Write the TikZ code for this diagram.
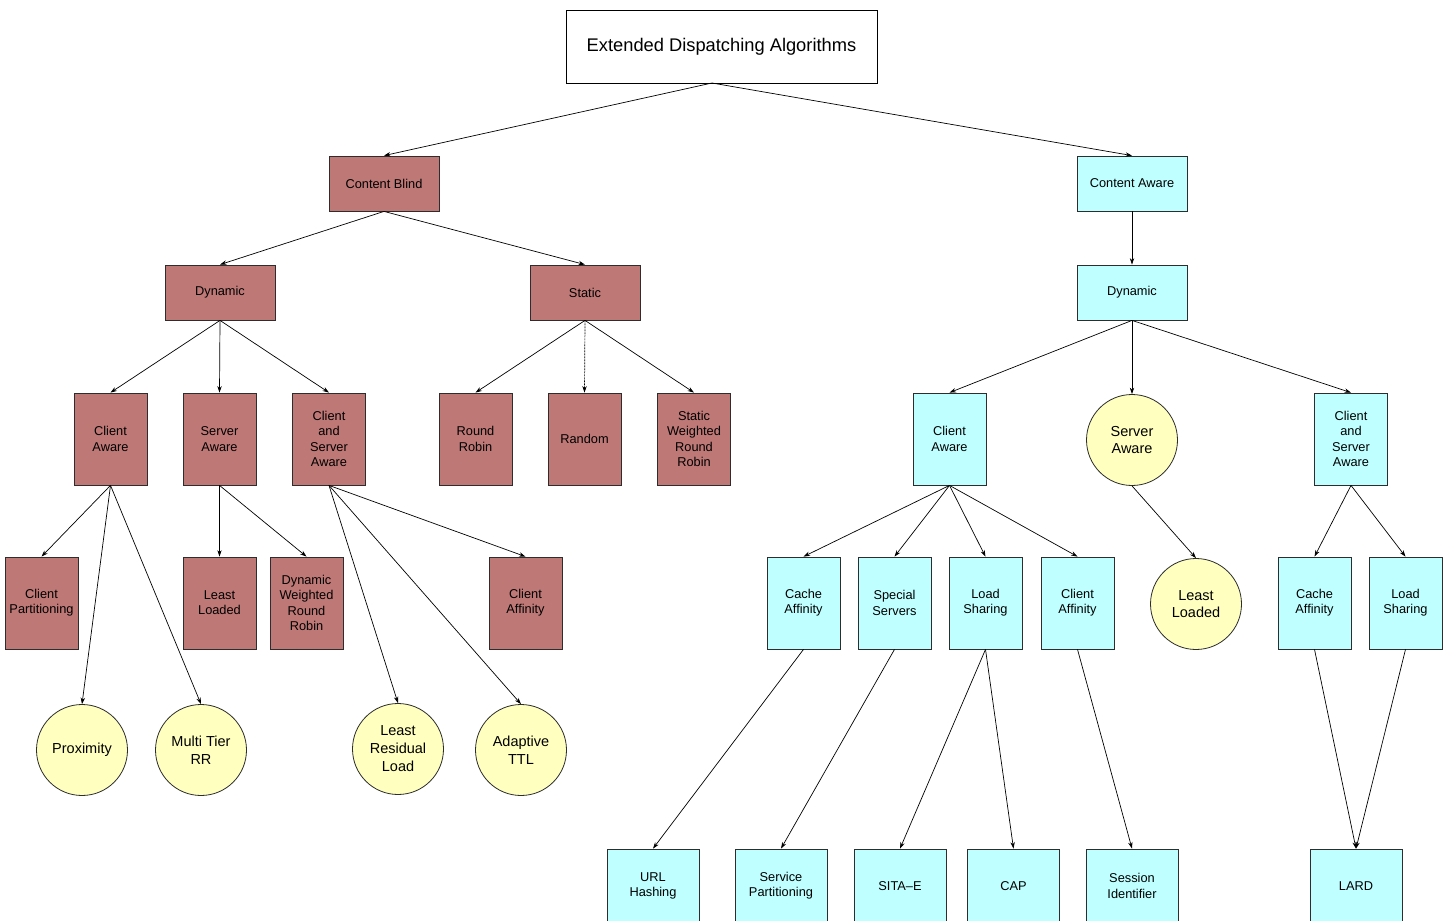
\documentclass[tikz,border=0pt]{standalone}
\usepackage{fontspec}
\setmainfont{Liberation Sans}
\usetikzlibrary{arrows.meta}
\definecolor{blindfill}{RGB}{190,120,118}
\definecolor{awarefill}{RGB}{191,255,255}
\definecolor{leaffill}{RGB}{255,255,192}
\definecolor{edgegray}{RGB}{45,45,45}
\tikzset{
  box/.style={rectangle, draw=edgegray, line width=0.8pt, inner sep=0pt, align=center,
    font=\fontsize{12.8}{15.3}\selectfont},
  blind/.style={box, fill=blindfill},
  aware/.style={box, fill=awarefill},
  wide/.style={minimum width=110pt, minimum height=55pt},
  tall/.style={minimum width=73pt, minimum height=92pt},
  base/.style={minimum width=92pt, minimum height=74pt},
  leaf/.style={circle, draw=edgegray, line width=0.8pt, fill=leaffill, inner sep=0pt,
    minimum size=91pt, align=center, font=\fontsize{14.5}{17.5}\selectfont},
  link/.style={draw=black, line width=0.7pt, -{Stealth[length=6.5pt,width=4.4pt]}},
}
\begin{document}
\begin{tikzpicture}[x=1pt,y=-1pt]
\useasboundingbox (0,0) rectangle (1446,921);
\clip (0,0) rectangle (1446,921);

% root
\node[box, draw=black, fill=white, minimum width=311pt, minimum height=73pt,
  font=\fontsize{18.3}{22}\selectfont] (root) at (721.5,46.5) {Extended Dispatching Algorithms};
\coordinate (rootout) at (712,83);

% first and second level
\node[blind, wide] (cb) at (384,183.5) {Content Blind};
\node[aware, wide] (ca) at (1132,183.5) {Content Aware};
\node[blind, wide] (bdyn) at (220,292.5) {Dynamic};
\node[blind, wide] (bstat) at (585,292.5) {Static};
\node[aware, wide] (adyn) at (1132,292.5) {Dynamic};

% third level
\node[blind, tall] (bca) at (110.5,439) {Client\\Aware};
\node[blind, tall] (bsa) at (219.5,439) {Server\\Aware};
\node[blind, tall] (bcsa) at (329,439) {Client\\and\\Server\\Aware};
\node[blind, tall] (rr) at (475.5,439) {Round\\Robin};
\node[blind, tall] (rnd) at (584.5,439) {Random};
\node[blind, tall] (swrr) at (694,439) {Static\\Weighted\\Round\\Robin};
\node[aware, tall] (aca) at (949.5,439) {Client\\Aware};
\node[leaf] (asa) at (1132,440) {Server\\Aware};
\node[aware, tall] (acsa) at (1351,439) {Client\\and\\Server\\Aware};

% fourth level
\node[blind, tall] (cpart) at (41.5,603) {Client\\Partitioning};
\node[blind, tall] (bll) at (219.5,603) {Least\\Loaded};
\node[blind, tall] (dwrr) at (306.5,603) {Dynamic\\Weighted\\Round\\Robin};
\node[blind, tall] (bcaff) at (525.5,603) {Client\\Affinity};
\node[aware, tall] (cache1) at (803.5,603) {Cache\\Affinity};
\node[aware, tall] (spec) at (894.5,603) {Special\\Servers};
\node[aware, tall] (share1) at (985.5,603) {Load\\Sharing};
\node[aware, tall] (acaff) at (1077.5,603) {Client\\Affinity};
\node[leaf] (all) at (1196,604) {Least\\Loaded};
\node[aware, tall] (cache2) at (1314.5,603) {Cache\\Affinity};
\node[aware, tall] (share2) at (1405.5,603) {Load\\Sharing};

% circular leaves of the content blind branch
\node[leaf] (prox) at (82,750) {Proximity};
\node[leaf] (mtrr) at (201,750) {Multi Tier\\RR};
\node[leaf, font=\fontsize{14.5}{18}\selectfont] (lrl) at (398,749) {Least\\Residual\\Load};
\node[leaf] (attl) at (521,750) {Adaptive\\TTL};

% bottom row
\node[aware, base] (url) at (653,886) {URL\\Hashing};
\node[aware, base] (spart) at (781,886) {Service\\Partitioning};
\node[aware, base] (sita) at (900,886) {SITA--E};
\node[aware, base] (cap) at (1013.5,886) {CAP};
\node[aware, base] (sess) at (1132,886) {Session\\Identifier};
\node[aware, base] (lard) at (1356,886) {LARD};

% connectors
\draw[link] (rootout) -- (cb.north);
\draw[link] (rootout) -- (ca.north);
\draw[link] (cb.south) -- (bdyn.north);
\draw[link] (cb.south) -- (bstat.north);
\draw[link] (ca.south) -- (adyn.north);

\draw[link] (bdyn.south) -- (bca.north);
\draw[link] (bdyn.south) -- (bsa.north);
\draw[link] (bdyn.south) -- (bcsa.north);
\draw[link] (bstat.south) -- (rr.north);
\draw[link, dash pattern=on 2pt off 1pt] (bstat.south) -- (rnd.north);
\draw[link] (bstat.south) -- (swrr.north);
\draw[link] (adyn.south) -- (aca.north);
\draw[link] (adyn.south) -- (asa.north);
\draw[link] (adyn.south) -- (acsa.north);

\draw[link] (bca.south) -- (cpart.north);
\draw[link] (bca.south) -- (prox.north);
\draw[link] (bca.south) -- (mtrr.north);
\draw[link] (bsa.south) -- (bll.north);
\draw[link] (bsa.south) -- (dwrr.north);
\draw[link] (bcsa.south) -- (lrl.north);
\draw[link] (bcsa.south) -- (attl.north);
\draw[link] (bcsa.south) -- (bcaff.north);

\draw[link] (aca.south) -- (cache1.north);
\draw[link] (aca.south) -- (spec.north);
\draw[link] (aca.south) -- (share1.north);
\draw[link] (aca.south) -- (acaff.north);
\draw[link] (asa.south) -- (all.north);
\draw[link] (acsa.south) -- (cache2.north);
\draw[link] (acsa.south) -- (share2.north);

\draw[link] (cache1.south) -- (url.north);
\draw[link] (spec.south) -- (spart.north);
\draw[link] (share1.south) -- (sita.north);
\draw[link] (share1.south) -- (cap.north);
\draw[link] (acaff.south) -- (sess.north);
\draw[link] (cache2.south) -- (lard.north);
\draw[link] (share2.south) -- (lard.north);
\end{tikzpicture}
\end{document}
